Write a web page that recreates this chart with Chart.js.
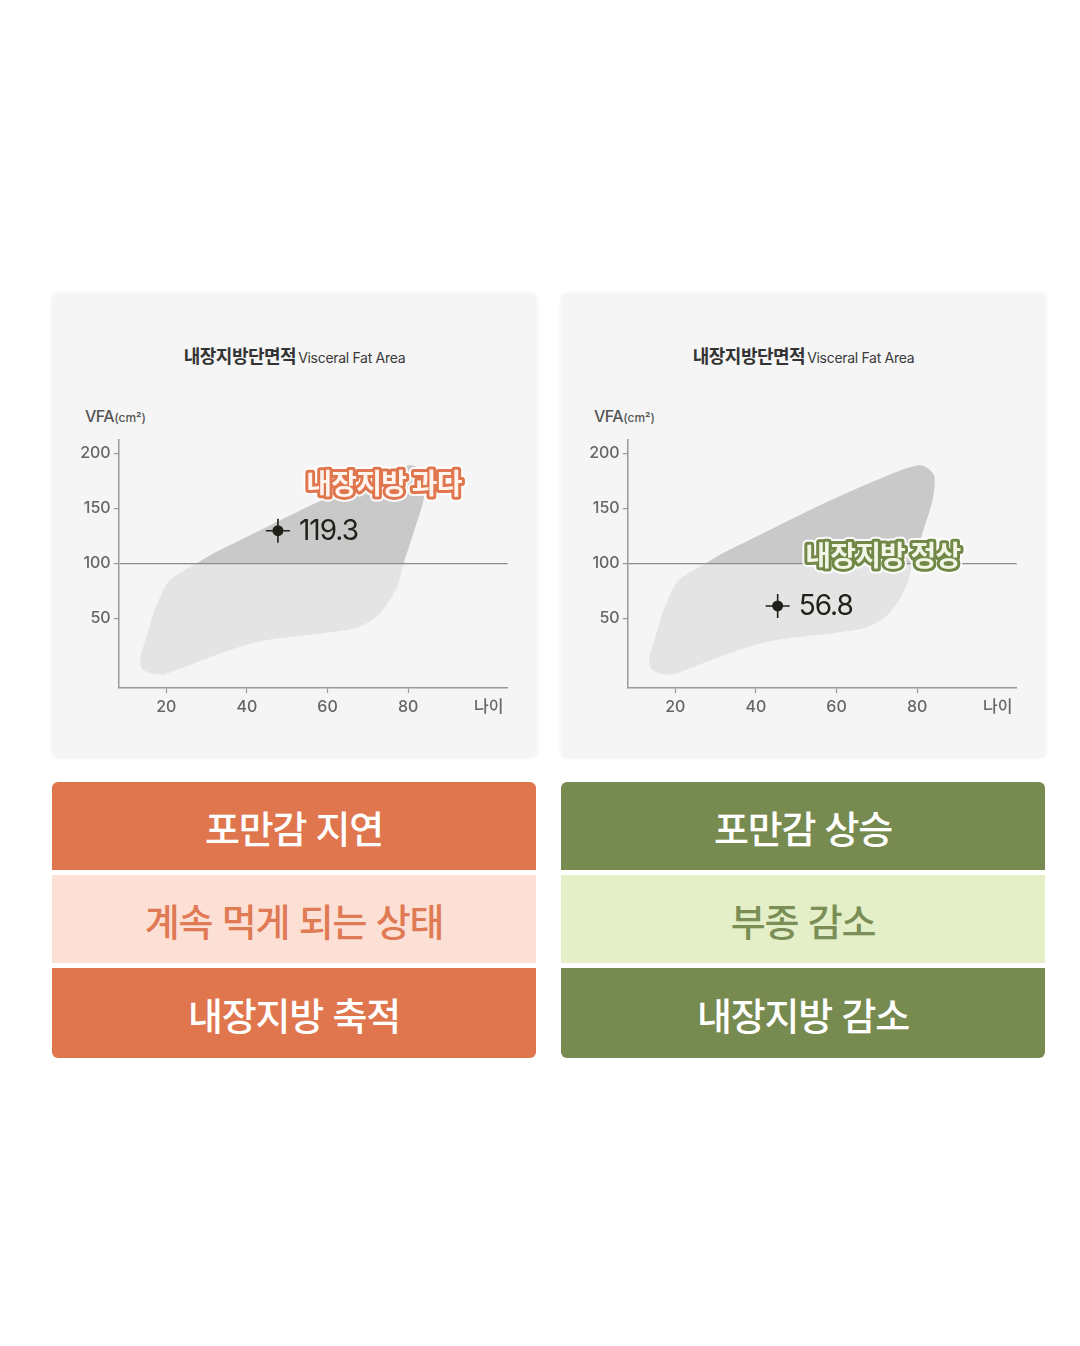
<!DOCTYPE html>
<html lang="ko">
<head>
<meta charset="utf-8">
<title>내장지방단면적</title>
<script src="https://cdn.jsdelivr.net/npm/chart.js@4.4.1/dist/chart.umd.min.js"></script>
<style>
  html, body { margin:0; padding:0; background:#fff; }
  body { width:1080px; height:1346px; position:relative; font-family: Inter, "Noto Sans CJK KR", sans-serif; }
  .panel { position:absolute; top:293px; width:485px; height:465px; background:#f5f5f5; border-radius:6px; box-shadow:0 0 4px rgba(0,0,0,0.05); }
  .panel canvas { position:absolute; left:0; top:0; }
  .title { position:absolute; left:0; right:0; top:48px; line-height:28px; text-align:center; color:#333; white-space:nowrap; }
  .title b { font-family:"Noto Sans CJK KR", sans-serif; font-size:18px; font-weight:700; letter-spacing:-0.5px; }
  .title span { font-size:14px; font-weight:400; letter-spacing:-0.3px; margin-left:2px; color:#3a3a3a; }
  .unit { position:absolute; left:33px; top:111px; line-height:24px; font-size:16px; font-weight:500; color:#555; letter-spacing:-0.5px; }
  .unit small { font-size:12px; letter-spacing:0; }
  .stack { position:absolute; top:782px; width:484px; }
  .row { display:flex; align-items:center; justify-content:center; font-family:"Noto Sans CJK KR", sans-serif; font-size:38px; font-weight:500; letter-spacing:-1.2px; }
  .row + .row { margin-top:5px; }
  .row:first-child { border-radius:6px 6px 0 0; }
  .row:last-child { border-radius:0 0 6px 6px; }
</style>
</head>
<body>
<div class="panel" style="left:52px">
  <div class="title"><b>내장지방단면적</b><span>Visceral Fat Area</span></div>
  <div class="unit">VFA<small>(cm²)</small></div>
  <canvas id="chartLeft" width="485" height="465"></canvas>
</div>
<div class="panel" style="left:561px">
  <div class="title"><b>내장지방단면적</b><span>Visceral Fat Area</span></div>
  <div class="unit">VFA<small>(cm²)</small></div>
  <canvas id="chartRight" width="485" height="465"></canvas>
</div>
<div class="stack" id="stackLeft" style="left:52px"></div>
<div class="stack" id="stackRight" style="left:561px"></div>

<script>
// axis ticks
const ageTicks = [20, 40, 60, 80, 100];
const ageTickLabels = ['20', '40', '60', '80', '나이'];
const vfaTicks = [50, 100, 150, 200];
const vfaLimit = 100;

// age / VFA distribution outline
const rangeAge = [19.3, 16, 14, 13.5, 14.3, 15.6, 16.8, 18.5, 20.9, 27.6, 31.7, 38.3, 57.8, 74.4, 80.2, 82.6, 84.3, 83.8, 81.3, 78.9, 77.6, 75.5, 72.2, 67.3, 60.3, 41.3, 19.3];
const rangeVfa = [-1.5, 0, 4, 12.1, 24.2, 39.4, 54.5, 69.6, 84.8, 100, 109, 121, 156, 182.4, 189, 186.5, 178.8, 157.5, 127.3, 100, 81.8, 66.6, 51.5, 41.5, 37, 27.3, -1.5];

// measured points (position as drawn) and their printed values
const pointAge = [47.7, 45.4];
const pointVfa = [129.6, 61.2];
const pointText = ['119.3', '56.8'];

// status labels
const statusText = ['내장지방 과다', '내장지방 정상'];
const statusAge = [74, 71.5];
const statusVfa = [172.7, 107.5];
const statusStroke = ['#e0764e', '#728847'];
const statusFill = ['#fff3ee', '#f2f6e6'];

// result boxes
const leftRows = ['포만감 지연', '계속 먹게 되는 상태', '내장지방 축적'];
const rightRows = ['포만감 상승', '부종 감소', '내장지방 감소'];
const leftColors = ['#e0764e', '#fde0d5', '#e0764e'];
const rightColors = ['#778a50', '#e4efc8', '#778a50'];
const leftText = ['#fff', '#e07a55', '#fff'];
const rightText = ['#fff', '#7a8e55', '#fff'];

Chart.defaults.font.family = 'Inter, "Noto Sans CJK KR", sans-serif';

const overlay = {
  id: 'overlay',
  // light area (index 0) is drawn first, then the dark copy (index 1):
  // clip between them so the dark copy only shows above the VFA limit
  afterDatasetDraw(chart, args) {
    const {ctx, chartArea, scales} = chart;
    if (args.index === 0) {
      ctx.save();
      ctx.beginPath();
      ctx.rect(chartArea.left, chartArea.top, chartArea.width, scales.y.getPixelForValue(vfaLimit) - chartArea.top);
      ctx.clip();
    } else if (args.index === 1) {
      ctx.restore();
    }
  },
  afterDraw(chart) {
    const i = chart.options.plugins.overlay.idx;
    const {ctx, scales} = chart;
    ctx.save();
    // value next to the marker
    ctx.font = '400 28px Inter, "Noto Sans CJK KR"';
    ctx.fillStyle = '#1e2219';
    ctx.textBaseline = 'middle';
    ctx.letterSpacing = '-1px';
    ctx.fillText(pointText[i], scales.x.getPixelForValue(pointAge[i]) + 21, scales.y.getPixelForValue(pointVfa[i]) + 1);
    // status label
    const sx = scales.x.getPixelForValue(statusAge[i]);
    const sy = scales.y.getPixelForValue(statusVfa[i]);
    ctx.font = '700 28px "Noto Sans CJK KR"';
    ctx.textAlign = 'center';
    ctx.letterSpacing = '-0.8px';
    ctx.lineJoin = 'round';
    ctx.strokeStyle = 'rgba(255,255,255,0.9)';
    ctx.lineWidth = 10;
    ctx.strokeText(statusText[i], sx, sy);
    ctx.strokeStyle = statusStroke[i];
    ctx.lineWidth = 6;
    ctx.strokeText(statusText[i], sx, sy);
    ctx.fillStyle = statusFill[i];
    ctx.fillText(statusText[i], sx, sy);
    ctx.restore();
  }
};

function makeChart(id, i){
  const outline = rangeAge.map((a, k) => ({x: a, y: rangeVfa[k]}));
  const area = {type:'scatter', showLine:true, fill:'shape', tension:0.3, pointRadius:0, borderWidth:0, borderColor:'rgba(0,0,0,0)'};
  const marker = {x:pointAge[i], y:pointVfa[i]};
  new Chart(document.getElementById(id), {
    type: 'scatter',
    data: {
      datasets: [
        Object.assign({data: outline, backgroundColor:'#e4e4e4', order:4}, area),
        Object.assign({data: outline, backgroundColor:'#c9c9c9', order:3}, area),
        {data:[marker], pointStyle:'circle', pointRadius:5.5, backgroundColor:'#1e2219', borderWidth:0, order:2},
        {data:[marker], pointStyle:'cross', pointRadius:12, borderColor:'#1e2219', borderWidth:1.6, order:1}
      ]
    },
    options: {
      responsive:false,
      animation:false,
      events:[],
      layout:{ padding:{left:0, right:29.3, top:147, bottom:0} },
      plugins:{ legend:{display:false}, tooltip:{enabled:false}, filler:{drawTime:'beforeDatasetDraw'}, overlay:{idx:i} },
      scales:{
        x:{
          type:'linear', min:8.2, max:104.7,
          afterBuildTicks: s => { s.ticks = ageTicks.map(v => ({value:v})); },
          afterFit: s => { s.height = 70; },
          border:{color:'#999', width:1.5},
          grid:{ drawOnChartArea:false, tickLength:5, tickWidth:1.2,
                 tickColor: c => (c.tick && c.tick.value === 100) ? 'rgba(0,0,0,0)' : '#999' },
          ticks:{ color:'#666', padding:5, maxRotation:0, autoSkip:false,
                  font:{size:16, weight:'500'},
                  callback: v => ageTickLabels[ageTicks.indexOf(v)] }
        },
        y:{
          type:'linear', min:-13.4, max:212.1,
          afterBuildTicks: s => { s.ticks = vfaTicks.map(v => ({value:v})); },
          afterFit: s => { s.width = 66.7; },
          border:{color:'#999', width:1.5, z:1},
          grid:{ z:1, lineWidth:1.2, tickLength:5, tickColor:'#999',
                 color: c => (c.tick && c.tick.value === vfaLimit) ? '#8c8c8c' : 'rgba(0,0,0,0)' },
          ticks:{ color:'#666', padding:3, font:{size:16, weight:'500'} }
        }
      }
    },
    plugins:[overlay]
  });
}

function fillStack(id, rows, colors, textColors){
  const box = document.getElementById(id);
  const heights = [88, 88, 90];
  rows.forEach((t, k) => {
    const d = document.createElement('div');
    d.className = 'row';
    d.style.height = heights[k] + 'px';
    d.style.background = colors[k];
    d.style.color = textColors[k];
    d.textContent = t;
    box.appendChild(d);
  });
}

makeChart('chartLeft', 0);
makeChart('chartRight', 1);
fillStack('stackLeft', leftRows, leftColors, leftText);
fillStack('stackRight', rightRows, rightColors, rightText);
</script>
</body>
</html>
